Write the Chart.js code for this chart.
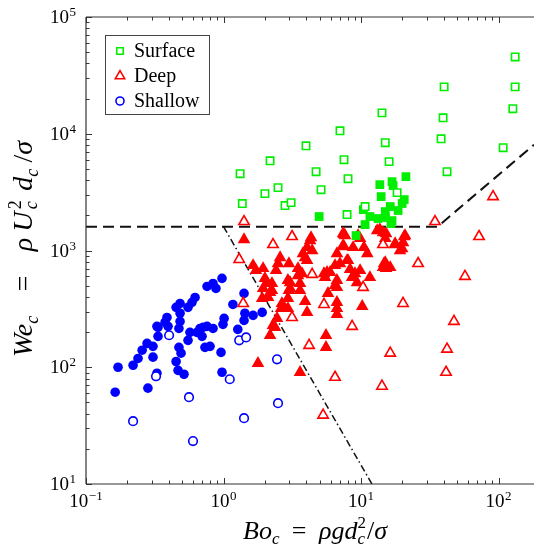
<!DOCTYPE html>
<html>
<head>
<meta charset="utf-8">
<script src="https://cdn.jsdelivr.net/npm/chart.js@4.4.1/dist/chart.umd.min.js"></script>
<style>
  html, body { margin: 0; padding: 0; background: #fff; }
  #wrap { width: 534px; height: 557px; position: relative; }
</style>
</head>
<body>
<div id="wrap"><canvas id="c" width="534" height="557"></canvas></div>
<script>
// ---- Regime data: Bond number (Bo_c) and Weber number (We_c) ----
const surfaceOpenBo = [132, 132, 127, 108, 40.2, 39.5, 38.2, 42.2, 14.2, 15.0, 16.0, 7.03, 7.52, 8.04, 4.71, 5.12, 3.98, 2.18, 2.49, 2.00, 1.32, 1.37, 2.80, 3.10, 7.91, 18.3, 10.7];
const surfaceOpenWe = [45500, 25200, 16400, 7590, 25200, 13700, 9060, 4730, 15100, 8380, 5770, 10600, 5990, 4120, 4730, 3320, 7890, 5870, 3455, 3070, 4550, 2525, 2425, 2570, 2030, 3130, 2380];

const surfaceFilledBo = [4.96, 13.7, 16.8, 17.1, 21.2, 14.0, 20.6, 19.9, 16.3, 15.0, 18.6, 10.4, 11.6, 13.3, 15.0, 16.5, 10.7, 9.20, 16.8];
const surfaceFilledWe = [1954, 3665, 3890, 3600, 4290, 2895, 2730, 2525, 2380, 2155, 2200, 2240, 1954, 1879, 1915, 1702, 1667, 1343, 1804];

const deepOpenBo = [1.41, 3.15, 34.5, 91.2, 72.1, 26.0, 57.0, 20.2, 47.4, 42.2, 41.5, 2.29, 1.30, 4.41, 10.35, 1.39, 3.15, 8.61, 14.45, 4.19, 16.3, 6.47, 14.2, 5.30, 5.38];
const deepOpenWe = [1770, 1318, 1770, 2895, 1318, 774, 600, 352, 247, 143, 90.6, 1125, 838, 624, 483, 352, 267, 224, 1125, 154, 132, 82.1, 68.8, 38.9, 345];

const deepFilledBo = [1.41, 4.33, 7.52, 9.84, 13.1, 15.2, 20.6, 4.05, 7.52, 8.75, 10.5, 17.7, 19.9, 11.1, 3.78, 6.68, 2.58, 4.05, 7.91, 1.64,
  2.49, 2.99, 14.7, 1.72, 1.94, 2.41, 3.48, 6.47, 7.03, 8.32, 15.2, 3.48, 5.38, 5.96, 8.75, 11.6, 2.00, 2.25, 3.60, 3.05,
  6.47, 1.94, 2.18, 2.99, 5.75, 2.94, 3.92, 6.68, 2.66, 1.91, 6.68, 10.2, 2.62, 4.05, 6.68, 2.45, 2.37, 2.18, 5.56, 5.56,
  1.78, 3.60, 2.29, 4.26, 4.41, 3.92, 3.72, 2.94, 2.07, 2.25, 3.05, 2.11, 2.71, 7.66, 7.40, 8.04, 5.66, 5.47, 6.68, 8.61,
  9.04, 6.68, 14.45, 15.0, 17.7, 19.2, 20.2, 15.0, 16.3, 14.45, 7.40, 9.51, 13.7, 20.9, 9.84, 9.35, 3.60, 2.94];
const deepFilledWe = [1242, 1291, 1371, 1268, 1483, 1396, 1318, 1062, 1081, 1062, 1062, 1125, 1040, 942, 942, 942, 871, 822, 822, 745,
  774, 774, 774, 675, 702, 675, 702, 745, 774, 689, 702, 611, 635, 649, 600, 588, 577, 522, 522, 532,
  502, 473, 438, 455, 429, 389, 366, 360, 352, 389, 319, 332, 319, 295, 284, 262, 220, 188, 188, 148,
  108, 90.6, 229, 1216, 1000, 871, 635, 555, 532, 455, 473, 396, 326, 1343, 1104, 822, 649, 588, 555, 588,
  635, 483, 1426, 1268, 1148, 1000, 1169, 789, 716, 716, 1396, 1343, 1510, 1343, 675, 532, 455, 319];

const shallowFilledBo = [0.975, 0.839, 0.759, 0.881, 0.621, 0.590, 0.552, 0.483, 0.452, 0.483, 0.388, 0.376, 0.483, 0.328, 0.395, 0.474, 0.334, 0.570, 0.641, 0.710,
  0.759, 0.839, 1.01, 0.991, 1.17, 1.41, 1.43, 1.41, 1.64, 1.91, 1.27, 0.552, 0.698, 0.733, 0.798, 0.959, 0.474, 0.491, 0.278, 0.307,
  0.256, 0.239, 0.220, 0.307, 0.452, 0.467, 0.516, 0.328, 0.975, 0.171, 0.163, 0.282, 0.334, 0.675];
const shallowFilledWe = [577, 522, 492, 473, 396, 360, 326, 352, 326, 290, 267, 243, 247, 224, 224, 215, 184, 199, 199, 220,
  224, 215, 262, 233, 345, 429, 290, 252, 278, 295, 211, 170, 184, 148, 151, 134, 148, 132, 160, 151,
  140, 119, 104, 122, 112, 94, 87.1, 88.9, 90.6, 100, 61.1, 66.2, 220, 215];

const shallowOpenBo = [0.220, 0.323, 0.402, 0.561, 0.600, 1.11, 1.30, 1.46, 2.45, 2.49, 1.41];
const shallowOpenWe = [34.5, 83.7, 188, 55.4, 23.3, 78.9, 170, 180, 117, 49.2, 36.6];

// Regime boundaries
const surfaceBoundaryBo = [0.1, 36, 181];
const surfaceBoundaryWe = [1600, 1600, 8044];
const shallowBoundaryBo = [1, 12];
const shallowBoundaryWe = [1600, 10];

// Axis ranges and tick exponents
const xRange = [0.1, 181];
const yRange = [10, 100000];
const xTickExps = [-1, 0, 1, 2];
const yTickExps = [1, 2, 3, 4, 5];
const legendLabels = ['Surface', 'Deep', 'Shallow'];

const GREEN = 'rgb(0,238,0)';
const RED = 'rgb(255,0,0)';
const BLUE = 'rgb(0,0,255)';
const SERIF = '"Liberation Serif", "DejaVu Serif", serif';

const pts = (xs, ys) => xs.map((x, i) => ({ x, y: ys[i] }));

function markerSet(label, xs, ys, style, color, radius, open) {
  return {
    label,
    data: pts(xs, ys),
    showLine: false,
    pointStyle: style,
    pointRadius: radius,
    pointHoverRadius: radius,
    pointBorderWidth: open ? 1.6 : 0,
    pointBorderColor: color,
    pointBackgroundColor: open ? '#ffffff' : color,
    clip: false
  };
}

function lineSet(xs, ys, dash, width) {
  return {
    data: pts(xs, ys),
    showLine: true,
    pointRadius: 0,
    borderColor: '#111',
    borderWidth: width,
    borderDash: dash,
    fill: false
  };
}

// The first dataset is drawn on top
const datasets = [
  markerSet('Surface', surfaceOpenBo, surfaceOpenWe, 'rect', GREEN, 5.2, true),
  markerSet('Surface', surfaceFilledBo, surfaceFilledWe, 'rect', GREEN, 6.2, false),
  markerSet('Deep', deepOpenBo, deepOpenWe, 'triangle', RED, 6, true),
  markerSet('Deep', deepFilledBo, deepFilledWe, 'triangle', RED, 7.3, false),
  markerSet('Shallow', shallowOpenBo, shallowOpenWe, 'circle', BLUE, 4.3, true),
  markerSet('Shallow', shallowFilledBo, shallowFilledWe, 'circle', BLUE, 4.8, false),
  lineSet(surfaceBoundaryBo, surfaceBoundaryWe, [11, 6], 2),
  lineSet(shallowBoundaryBo, shallowBoundaryWe, [7, 3, 1.5, 3], 1.5)
];

// Draw "10" with a superscript exponent; align 'right' or 'center'
function powerLabel(ctx, exp, x, y, align) {
  const base = '10';
  const sup = String(exp).replace('-', '\u2212');
  ctx.font = '19px ' + SERIF;
  const w1 = ctx.measureText(base).width;
  ctx.font = '13px ' + SERIF;
  const w2 = ctx.measureText(sup).width;
  const total = w1 + w2 + 0.5;
  let x0 = align === 'right' ? x - total : x - total / 2;
  ctx.textAlign = 'left';
  ctx.textBaseline = 'alphabetic';
  ctx.font = '19px ' + SERIF;
  ctx.fillText(base, x0, y);
  ctx.font = '13px ' + SERIF;
  ctx.fillText(sup, x0 + w1 + 0.5, y - 7);
}

// Math-style rich text: segments of {t, size, italic, dy} or {sup, sub, size};
// 'pad' adds breathing room after a segment, spread to fill the given width
function richText(ctx, segs, x, y, width) {
  const fontOf = s => (s.italic ? 'italic ' : '') + s.size + 'px ' + SERIF;
  const widths = segs.map(s => {
    if (s.sup !== undefined) {
      ctx.font = fontOf({ size: s.size, italic: false });
      const a = ctx.measureText(s.sup).width;
      ctx.font = fontOf({ size: s.size, italic: true });
      const b = ctx.measureText(s.sub).width;
      return Math.max(a, b) + 1;
    }
    ctx.font = fontOf(s);
    return ctx.measureText(s.t).width;
  });
  const natural = widths.reduce((a, b) => a + b, 0);
  const padUnits = segs.reduce((a, s) => a + (s.pad || 0), 0);
  const unit = padUnits > 0 ? Math.max(0, (width - natural) / padUnits) : 0;
  const total = natural + unit * padUnits;
  let cx = x - total / 2;
  ctx.textAlign = 'left';
  ctx.textBaseline = 'alphabetic';
  segs.forEach((s, i) => {
    if (s.sup !== undefined) {
      ctx.font = fontOf({ size: s.size, italic: false });
      ctx.fillText(s.sup, cx, y - s.size * 0.62);
      ctx.font = fontOf({ size: s.size, italic: true });
      ctx.fillText(s.sub, cx, y + s.size * 0.3);
    } else {
      ctx.font = fontOf(s);
      ctx.fillText(s.t, cx, y + (s.dy || 0));
    }
    cx += widths[i] + unit * (s.pad || 0);
  });
}

const framePlugin = {
  id: 'frame',
  afterDraw(chart) {
    const { ctx, chartArea: a, scales } = chart;
    const xs = scales.x, ys = scales.y;
    ctx.save();
    ctx.strokeStyle = '#333';
    ctx.fillStyle = '#000';
    ctx.lineWidth = 1.2;

    // Frame lines (left, bottom, top)
    ctx.beginPath();
    ctx.moveTo(a.left, a.top); ctx.lineTo(a.right, a.top);
    ctx.moveTo(a.left, a.top); ctx.lineTo(a.left, a.bottom);
    ctx.moveTo(a.left, a.bottom); ctx.lineTo(a.right, a.bottom);
    ctx.stroke();

    // Inward ticks, major and minor
    ctx.lineWidth = 1;
    ctx.beginPath();
    for (let d = -1; d <= 2; d++) {
      for (let m = 1; m <= 9; m++) {
        const v = m * Math.pow(10, d);
        if (v < xRange[0] || v > xRange[1]) continue;
        const px = Math.round(xs.getPixelForValue(v)) + 0.5;
        const len = m === 1 ? 6 : 3.5;
        ctx.moveTo(px, a.bottom); ctx.lineTo(px, a.bottom - len);
        ctx.moveTo(px, a.top); ctx.lineTo(px, a.top + len);
      }
    }
    for (let d = 1; d <= 5; d++) {
      for (let m = 1; m <= 9; m++) {
        const v = m * Math.pow(10, d);
        if (v < yRange[0] || v > yRange[1]) continue;
        const py = Math.round(ys.getPixelForValue(v)) + 0.5;
        const len = m === 1 ? 6 : 3.5;
        ctx.moveTo(a.left, py); ctx.lineTo(a.left + len, py);
      }
    }
    ctx.stroke();

    // Tick labels
    xTickExps.forEach(e => powerLabel(ctx, e, xs.getPixelForValue(Math.pow(10, e)), 507, 'center'));
    yTickExps.forEach(e => powerLabel(ctx, e, 76, ys.getPixelForValue(Math.pow(10, e)) + 6, 'right'));

    // Axis titles
    richText(ctx, [
      { t: 'Bo', size: 26, italic: true },
      { t: 'c', size: 17, italic: true, dy: 5, pad: 1 },
      { t: '=', size: 26, pad: 1 },
      { t: '\u03C1gd', size: 26, italic: true },
      { sup: '2', sub: 'c', size: 17 },
      { t: '/', size: 26 },
      { t: '\u03C3', size: 26, italic: true }
    ], 315, 539, 144);

    ctx.save();
    ctx.translate(32, 249);
    ctx.rotate(-Math.PI / 2);
    richText(ctx, [
      { t: 'We', size: 28, italic: true },
      { t: 'c', size: 18, italic: true, dy: 6, pad: 1 },
      { t: '=', size: 28, pad: 1 },
      { t: '\u03C1', size: 28, italic: true, pad: 0.25 },
      { t: 'U', size: 28, italic: true, pad: 0.1 },
      { sup: '2', sub: 'c', size: 18, pad: 0.35 },
      { t: 'd', size: 28, italic: true },
      { t: 'c', size: 18, italic: true, dy: 6, pad: 0.25 },
      { t: '/', size: 28 },
      { t: '\u03C3', size: 28, italic: true }
    ], 0, 0, 216);
    ctx.restore();

    // Legend
    ctx.fillStyle = '#fff';
    ctx.fillRect(105.5, 35.5, 104, 79);
    ctx.strokeStyle = '#444';
    ctx.lineWidth = 1;
    ctx.strokeRect(105.5, 35.5, 104, 79);
    const legendStyles = [
      { style: 'rect', color: GREEN, r: 4.6 },
      { style: 'triangle', color: RED, r: 5.4 },
      { style: 'circle', color: BLUE, r: 4.0 }
    ];
    legendLabels.forEach((lab, i) => {
      const y = 51 + i * 25;
      const s = legendStyles[i];
      ctx.strokeStyle = s.color;
      ctx.fillStyle = '#fff';
      ctx.lineWidth = 1.6;
      Chart.helpers.drawPoint(ctx, { pointStyle: s.style, radius: s.r, rotation: 0, borderWidth: 1.6 }, 120, y);
      ctx.fillStyle = '#000';
      ctx.font = '20px ' + SERIF;
      ctx.textAlign = 'left';
      ctx.textBaseline = 'middle';
      ctx.fillText(lab, 134, y + 1);
    });
    ctx.restore();
  }
};

new Chart(document.getElementById('c'), {
  type: 'scatter',
  data: { datasets },
  options: {
    responsive: false,
    devicePixelRatio: 1,
    animation: false,
    layout: { autoPadding: false, padding: { left: 86, top: 17, right: 0, bottom: 73 } },
    plugins: { legend: { display: false }, tooltip: { enabled: false } },
    scales: {
      x: { type: 'logarithmic', min: xRange[0], max: xRange[1], display: false },
      y: { type: 'logarithmic', min: yRange[0], max: yRange[1], display: false }
    }
  },
  plugins: [framePlugin]
});
</script>
</body>
</html>
